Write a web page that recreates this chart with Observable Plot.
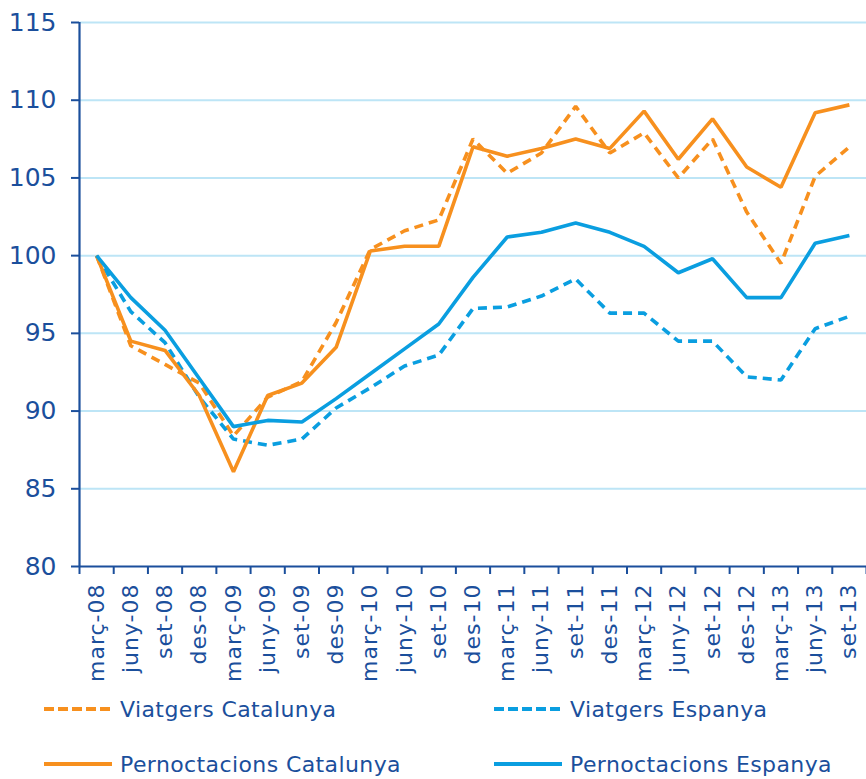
<!DOCTYPE html>
<html>
<head>
<meta charset="utf-8">
<script src="https://cdn.jsdelivr.net/npm/d3@7"></script>
<script src="https://cdn.jsdelivr.net/npm/@observablehq/plot@0.6"></script>
<style>
  html, body { margin: 0; padding: 0; background: #fff; }
  #wrap { position: relative; width: 866px; height: 779px; overflow: hidden; font-family: "DejaVu Sans", sans-serif; }
  #chart svg { display: block; }
  .leg { position: absolute; display: flex; align-items: center; color: #1B4F9C; font-size: 22px; letter-spacing: 0.4px; white-space: nowrap; }
  .leg svg { margin-right: 8px; }
</style>
</head>
<body>
<div id="wrap">
  <div id="chart"></div>
  <div id="legend"></div>
</div>
<script>
const categories = ["març-08","juny-08","set-08","des-08","març-09","juny-09","set-09","des-09","març-10","juny-10","set-10","des-10","març-11","juny-11","set-11","des-11","març-12","juny-12","set-12","des-12","març-13","juny-13","set-13"];
const viatgersCatalunya = [100,94.2,93.0,91.8,88.4,90.9,91.9,95.7,100.4,101.6,102.3,107.5,105.3,106.6,109.6,106.6,107.9,105.0,107.5,102.8,99.5,105.1,107.0];
const viatgersEspanya = [100,96.4,94.4,90.9,88.2,87.8,88.2,90.2,91.5,92.9,93.6,96.6,96.7,97.4,98.5,96.3,96.3,94.5,94.5,92.2,92.0,95.3,96.1];
const pernoctacionsCatalunya = [100,94.5,93.9,91.0,86.1,91.0,91.8,94.1,100.3,100.6,100.6,107.0,106.4,106.9,107.5,106.9,109.3,106.2,108.8,105.7,104.4,109.2,109.7];
const pernoctacionsEspanya = [100,97.3,95.2,92.1,89.0,89.4,89.3,90.8,92.4,94.0,95.6,98.6,101.2,101.5,102.1,101.5,100.6,98.9,99.8,97.3,97.3,100.8,101.3];
const yTicks = [80,85,90,95,100,105,110,115];
const gridTicks = [85,90,95,100,105,110,115];

const ORANGE = "#F7901E", BLUE = "#0A9EE0", DARK = "#1B4F9C", GRID = "#BDE5F6";

const seriesDefs = [
  {name: "Viatgers Catalunya", values: viatgersCatalunya, color: ORANGE, dash: "9,6"},
  {name: "Viatgers Espanya", values: viatgersEspanya, color: BLUE, dash: "9,6"},
  {name: "Pernoctacions Catalunya", values: pernoctacionsCatalunya, color: ORANGE, dash: null},
  {name: "Pernoctacions Espanya", values: pernoctacionsEspanya, color: BLUE, dash: null}
];

const rows = s => categories.map((c, i) => ({cat: c, pos: categories.indexOf(c) + 0.5, value: s.values[i]}));

const chart = Plot.plot({
  width: 866,
  height: 690,
  marginLeft: 79,
  marginRight: 0,
  marginTop: 22,
  marginBottom: 124,
  style: {fontFamily: "DejaVu Sans, sans-serif", background: "#fff"},
  x: {type: "linear", domain: [0, categories.length]},
  y: {domain: [80, 115]},
  marks: [
    Plot.gridY({ticks: gridTicks, stroke: GRID, strokeOpacity: 1, strokeWidth: 2}),
    Plot.axisY({ticks: yTicks, tickSize: 8, tickPadding: 15, fontSize: 25, color: DARK, strokeWidth: 2, tickFormat: d => String(d), label: null}),
    Plot.axisX({ticks: d3.range(0, categories.length + 1), tickSize: 8, tickFormat: () => "", color: DARK, strokeWidth: 2, label: null}),
    Plot.axisX({ticks: categories.map((c, i) => i + 0.5), tickSize: 0, tickPadding: 17, tickRotate: -90, fontSize: 22, color: DARK, tickFormat: d => categories[Math.round(d - 0.5)], label: null}),
    Plot.ruleX([0], {stroke: DARK, strokeWidth: 2.2}),
    Plot.ruleY([80], {stroke: DARK, strokeWidth: 2.2}),
    ...seriesDefs.map(s => Plot.line(rows(s), {
      x: "pos", y: "value", stroke: s.color, strokeWidth: 3.6,
      strokeDasharray: s.dash, strokeLinejoin: "miter", strokeLinecap: "butt"
    }))
  ]
});
document.getElementById("chart").appendChild(chart);
chart.querySelectorAll("text").forEach(t => {
  if (categories.includes(t.textContent.trim())) {
    t.setAttribute("letter-spacing", "1");
  }
});

// Legend below the chart
const legendPos = [
  {left: 44, top: 690},
  {left: 494, top: 690},
  {left: 44, top: 745},
  {left: 494, top: 745}
];
const legend = document.getElementById("legend");
seriesDefs.forEach((s, i) => {
  const div = document.createElement("div");
  div.className = "leg";
  div.style.left = legendPos[i].left + "px";
  div.style.top = legendPos[i].top + "px";
  div.style.height = "38px";
  div.innerHTML = `<svg width="68" height="8"><line x1="0" y1="4" x2="68" y2="4" stroke="${s.color}" stroke-width="4" ${s.dash ? 'stroke-dasharray="10,4"' : ""}/></svg><span>${s.name}</span>`;
  legend.appendChild(div);
});
</script>
</body>
</html>
